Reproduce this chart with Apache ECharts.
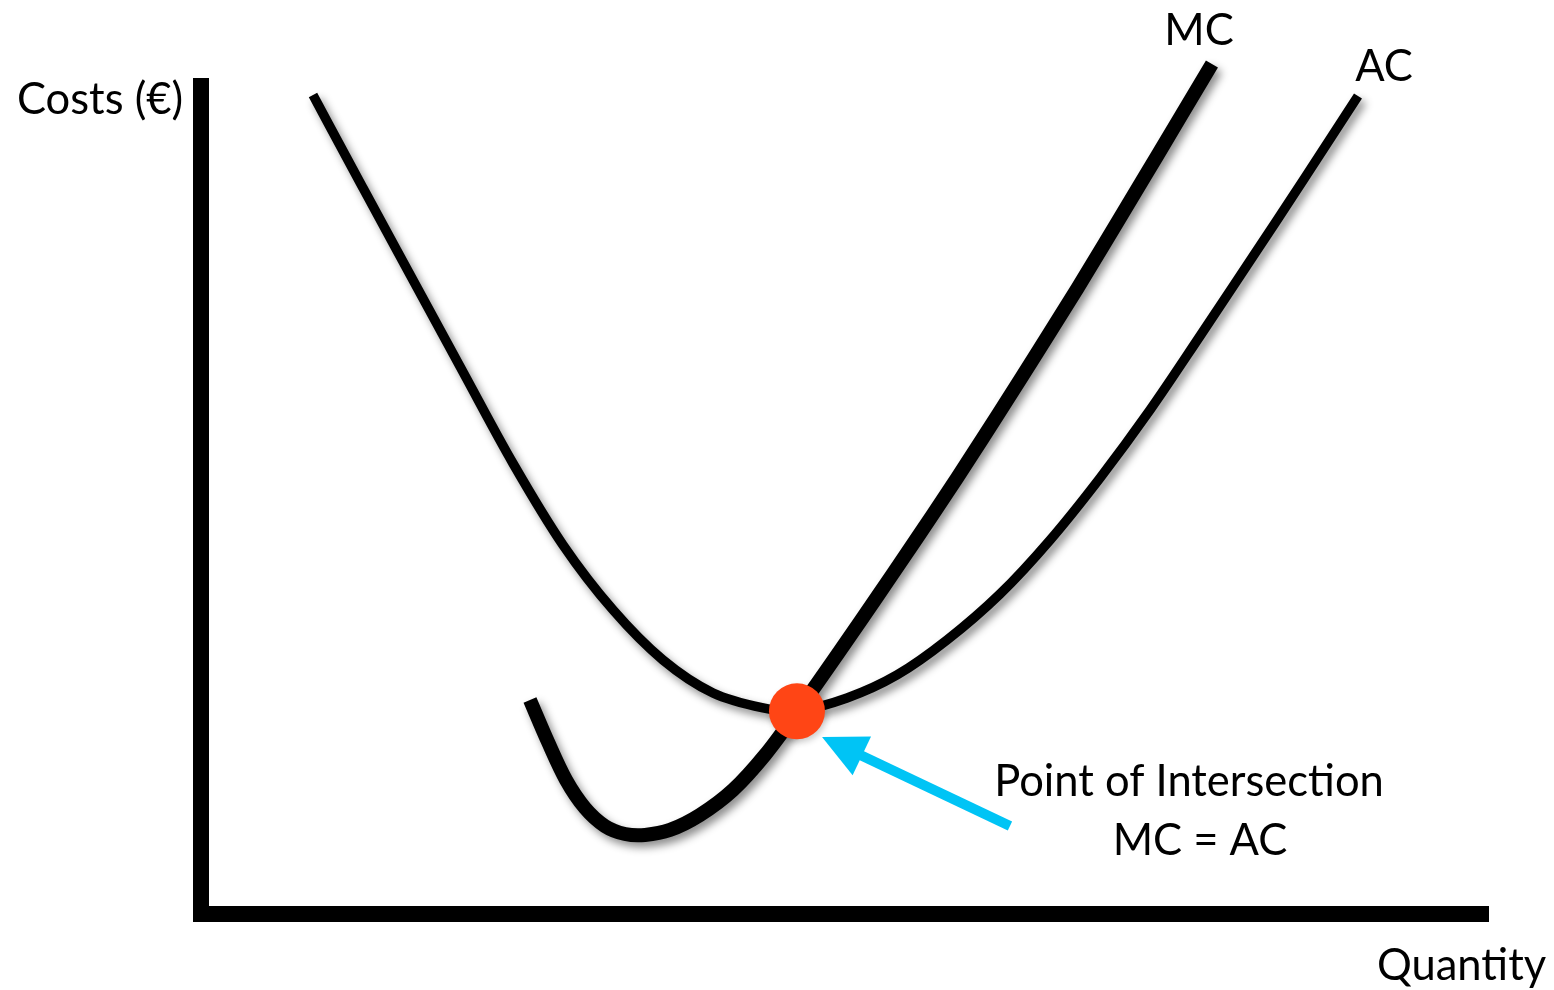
<!DOCTYPE html>
<html>
<head>
<meta charset="utf-8">
<script src="https://cdn.jsdelivr.net/npm/echarts@6/dist/echarts.min.js"></script>
<style>
  html, body { margin: 0; padding: 0; background: #fff; }
  #chart { width: 1554px; height: 990px; }
</style>
</head>
<body>
<div id="chart"></div>
<script>
// Average cost curve (quantity, cost)
var acQuantity = [8.75, 12.66, 16.56, 20.47, 24.38, 28.28, 32.19, 36.09, 40.0, 43.91, 46.56,
                  50.47, 54.38, 58.28, 62.42, 66.33, 70.23, 74.14, 78.05, 82.34, 86.25, 90.39];
var acCost     = [97.96, 86.83, 75.82, 64.81, 53.86, 44.11, 36.33, 30.34, 26.39, 24.60, 24.24,
                  25.79, 28.55, 32.73, 38.24, 44.70, 52.12, 60.26, 69.12, 79.00, 88.09, 97.85];

// Marginal cost curve (quantity, cost)
var mcQuantity = [25.70, 27.11, 28.52, 30.0, 31.56, 33.13, 34.69, 36.64, 38.98, 41.56, 44.06, 46.56,
                  49.69, 52.81, 55.94, 59.06, 62.19, 65.31, 68.44, 71.56, 74.69, 78.98];
var mcCost     = [25.55, 20.53, 15.98, 12.63, 10.47, 9.52, 9.40, 10.00, 11.79, 14.78, 18.97, 24.12,
                  30.94, 37.88, 44.94, 52.12, 59.55, 67.09, 74.75, 82.65, 90.66, 101.68];

// Where MC crosses AC
var intersection = [46.56, 24.2];

// Pointer arrow: from (tail quantity, tail cost) to (head quantity, head cost)
var arrowFrom = [63.2, 10.47];
var arrowTo   = [48.52, 21.13];

var labels = {
  yName: 'Costs (€)',
  xName: 'Quantity',
  mc: 'MC',
  ac: 'AC',
  note1: 'Point of Intersection',
  note2: 'MC = AC'
};

function zip(xs, ys) {
  return xs.map(function (x, i) { return [x, ys[i]]; });
}

var FONT = '43.5px Lato, "Open Sans", sans-serif';

function label(text, x, y, align) {
  return {
    type: 'text', x: x, y: y,
    style: { text: text, font: FONT, fill: '#000', align: align || 'center', verticalAlign: 'middle' }
  };
}

// Builds a smooth cubic path (chord-length Catmull-Rom) through screen points.
function smoothPath(pts) {
  var n = pts.length;
  var d = [];
  for (var i = 0; i < n - 1; i++) {
    d.push(Math.hypot(pts[i + 1][0] - pts[i][0], pts[i + 1][1] - pts[i][1]) || 1e-6);
  }
  var m = [];
  for (var j = 0; j < n; j++) {
    if (j === 0) {
      m.push([(pts[1][0] - pts[0][0]) / d[0], (pts[1][1] - pts[0][1]) / d[0]]);
    } else if (j === n - 1) {
      m.push([(pts[j][0] - pts[j - 1][0]) / d[j - 1], (pts[j][1] - pts[j - 1][1]) / d[j - 1]]);
    } else {
      var s = d[j - 1] + d[j];
      m.push([(pts[j + 1][0] - pts[j - 1][0]) / s, (pts[j + 1][1] - pts[j - 1][1]) / s]);
    }
  }
  var path = 'M' + pts[0][0] + ' ' + pts[0][1];
  for (var k = 0; k < n - 1; k++) {
    var h = d[k] / 3;
    var c1 = [pts[k][0] + m[k][0] * h, pts[k][1] + m[k][1] * h];
    var c2 = [pts[k + 1][0] - m[k + 1][0] * h, pts[k + 1][1] - m[k + 1][1] * h];
    path += ' C' + c1[0] + ' ' + c1[1] + ' ' + c2[0] + ' ' + c2[1] + ' ' + pts[k + 1][0] + ' ' + pts[k + 1][1];
  }
  return path;
}

function curveSeries(name, xs, ys, width, z) {
  return {
    name: name, type: 'custom', clip: false, z: z,
    data: zip(xs, ys),
    renderItem: function (params, api) {
      if (params.dataIndexInside !== 0) return null;
      var pts = [];
      for (var i = 0; i < params.dataInsideLength; i++) {
        pts.push(api.coord([api.value(0, i), api.value(1, i)]));
      }
      return {
        type: 'path',
        shape: { pathData: smoothPath(pts) },
        style: {
          fill: null, stroke: '#000', lineWidth: width, lineCap: 'butt', lineJoin: 'round',
          shadowColor: 'rgba(0,0,0,0.45)', shadowBlur: 9, shadowOffsetX: 4, shadowOffsetY: 5
        }
      };
    }
  };
}

var chart = echarts.init(document.getElementById('chart'), null, { renderer: 'canvas' });

chart.setOption({
  backgroundColor: '#ffffff',
  animation: false,
  grid: { left: 201, right: 73, top: 78, bottom: 76.5, containLabel: false },
  xAxis: {
    type: 'value', min: 0, max: 100,
    axisLine: { show: true, onZero: false, lineStyle: { color: '#000', width: 16, cap: 'square' } },
    axisTick: { show: false }, axisLabel: { show: false }, splitLine: { show: false }
  },
  yAxis: {
    type: 'value', min: 0, max: 100,
    axisLine: { show: true, onZero: false, lineStyle: { color: '#000', width: 16, cap: 'butt' } },
    axisTick: { show: false }, axisLabel: { show: false }, splitLine: { show: false }
  },
  series: [
    curveSeries('AC', acQuantity, acCost, 9.5, 3),
    curveSeries('MC', mcQuantity, mcCost, 14, 4),
    {
      name: 'arrow', type: 'custom', clip: false, z: 5,
      data: [[arrowFrom[0], arrowFrom[1], arrowTo[0], arrowTo[1]]],
      renderItem: function (params, api) {
        var p0 = api.coord([api.value(0), api.value(1)]);
        var p1 = api.coord([api.value(2), api.value(3)]);
        var dx = p1[0] - p0[0], dy = p1[1] - p0[1];
        var len = Math.sqrt(dx * dx + dy * dy);
        var ux = dx / len, uy = dy / len;
        var nx = -uy, ny = ux;
        var headLen = 44, headHalf = 21.5;
        var bx = p1[0] - ux * headLen, by = p1[1] - uy * headLen;
        var color = '#00c4f5';
        return {
          type: 'group',
          children: [
            {
              type: 'line',
              shape: { x1: p0[0], y1: p0[1], x2: bx + ux * 4, y2: by + uy * 4 },
              style: { stroke: color, lineWidth: 10, lineCap: 'butt' }
            },
            {
              type: 'polygon',
              shape: { points: [
                [p1[0], p1[1]],
                [bx + nx * headHalf, by + ny * headHalf],
                [bx - nx * headHalf, by - ny * headHalf]
              ] },
              style: { fill: color }
            }
          ]
        };
      }
    },
    {
      name: 'MC = AC', type: 'scatter', data: [intersection],
      symbol: 'circle', symbolSize: 56, clip: false, z: 6,
      itemStyle: { color: '#ff4515', opacity: 1, shadowColor: 'rgba(0,0,0,0.2)', shadowBlur: 6, shadowOffsetX: 2, shadowOffsetY: 3 }
    }
  ],
  graphic: [
    label(labels.yName, 17, 100, 'left'),
    label(labels.xName, 1377, 966, 'left'),
    label(labels.mc, 1199, 31),
    label(labels.ac, 1384, 67),
    label(labels.note1, 1189, 782),
    label(labels.note2, 1200, 841)
  ]
});
</script>
</body>
</html>
